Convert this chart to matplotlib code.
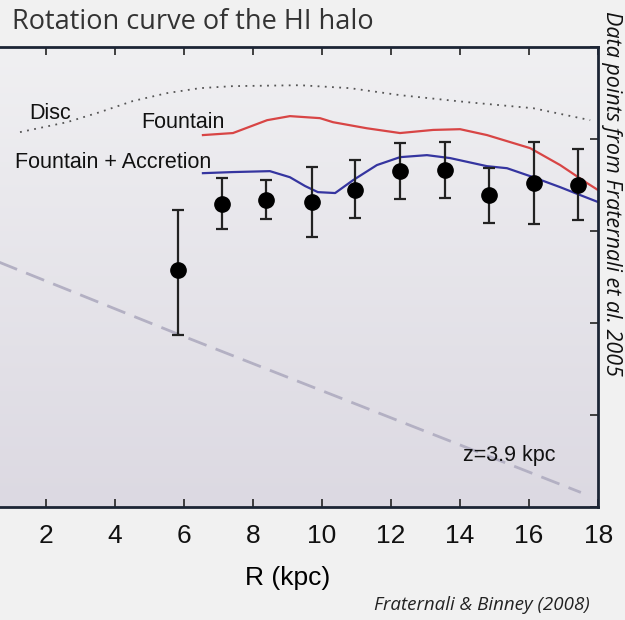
# Rotation curve of the HI halo (Fraternali & Binney 2008 style)
import matplotlib
matplotlib.use("Agg")
import matplotlib.pyplot as plt
import numpy as np

# data points (R in kpc, v in km/s) with asymmetric errors
r_obs = [5.83, 7.10, 8.38, 9.71, 10.96, 12.26, 13.57, 14.84, 16.14, 17.42]
v_obs = [128.8, 164.7, 166.8, 165.8, 172.3, 182.6, 183.2, 169.6, 176.1, 175.0]
v_hi = [161.4, 178.8, 177.7, 184.8, 188.6, 197.8, 198.4, 184.2, 198.4, 194.6]
v_lo = [93.5, 151.1, 156.5, 146.7, 157.0, 167.4, 167.9, 154.3, 153.8, 156.0]

# model curves
r_disc = [1.25, 2.61, 3.57, 4.52, 5.51, 6.46, 7.42, 9.36, 10.81, 12.26, 14.2, 16.12, 17.77]
v_disc = [203.8, 209.2, 214.7, 220.7, 225.0, 227.7, 228.8, 229.3, 227.7, 223.9, 220.1, 216.8, 210.3]

r_fount = [6.55, 7.42, 8.41, 9.07, 9.94, 10.32, 11.30, 12.26, 13.22, 14.0, 14.78, 16.03, 16.9, 17.68, 18.0]
v_fount = [202.2, 203.3, 210.3, 212.5, 211.4, 209.2, 205.9, 203.3, 205.0, 205.4, 202.2, 195.1, 185.9, 176.1, 172.3]

r_acc = [6.55, 7.42, 8.49, 9.07, 9.51, 9.88, 10.38, 10.90, 11.59, 12.26, 13.04, 13.71, 14.78, 15.36, 16.12, 16.90, 17.48, 18.0]
v_acc = [181.5, 182.1, 182.6, 179.3, 174.5, 171.2, 170.7, 177.7, 185.9, 190.2, 191.3, 189.7, 185.3, 184.2, 179.3, 173.9, 169.6, 165.8]

r_z = [0.0, 5.83, 17.5]
v_z = [138.0, 94.0, 8.0]

xticks = [2, 4, 6, 8, 10, 12, 14, 16, 18]

fig = plt.figure(figsize=(6.25, 6.2), dpi=100)
fig.patch.set_facecolor('#f1f1f1')

ax = fig.add_axes([-0.037, 0.182, 0.994, 0.742])
ax.set_xlim(0, 18)
ax.set_ylim(0, 250)

# gradient background
grad = np.linspace(0, 1, 256).reshape(-1, 1)
cmap = matplotlib.colors.LinearSegmentedColormap.from_list('bg', ['#f0f0f2', '#dcd9e2'])
ax.imshow(grad, extent=[0, 1, 0, 1], transform=ax.transAxes, cmap=cmap,
          aspect='auto', zorder=0, origin='upper')

ax.plot(r_disc, v_disc, ls=(0, (1, 3)), color='#555555', lw=1.3, zorder=2)
ax.plot(r_fount, v_fount, color='#d84545', lw=1.6, zorder=2)
ax.plot(r_acc, v_acc, color='#3535a0', lw=1.6, zorder=2)
ax.plot(r_z, v_z, ls=(0, (7, 3.5)), color='#b3b0c3', lw=2.0, zorder=2)

err = [np.array(v_obs) - np.array(v_lo), np.array(v_hi) - np.array(v_obs)]
ax.errorbar(r_obs, v_obs, yerr=err, fmt='o', color='black', ecolor='#222222',
            markersize=11, elinewidth=1.6, capsize=4.5, capthick=1.6, zorder=3)

txt = dict(family='Liberation Sans', color='#111111')
ax.text(2.12, 214, "Disc", fontsize=15.5, ha='center', va='center', **txt)
ax.text(5.97, 209, "Fountain", fontsize=15.5, ha='center', va='center', **txt)
ax.text(3.96, 187.5, "Fountain + Accretion", fontsize=15.5, ha='center', va='center', **txt)
ax.text(15.42, 28.3, "z=3.9 kpc", fontsize=15.5, ha='center', va='center', **txt)

ax.set_xticks(xticks)
ax.set_xticklabels([str(t) for t in xticks], fontsize=19, family='Liberation Sans')
ax.set_yticks([0, 50, 100, 150, 200, 250])
ax.set_yticklabels([])
ax.tick_params(axis='x', direction='in', top=True, length=6, width=1.2,
               pad=12, colors='#222222', labelcolor='#111111')
ax.tick_params(axis='y', direction='in', right=True, length=6, width=1.2, colors='#222222')
ax.set_xlabel("R (kpc)", fontsize=19, family='Liberation Sans', labelpad=13)

for s in ax.spines.values():
    s.set_color('#1c2535')
    s.set_linewidth(2)

fig.text(0.02, 0.965, "Rotation curve of the HI halo", fontsize=19.5, family='Open Sans',
         color='#333333', ha='left', va='center')
fig.text(0.979, 0.688, "Data points from Fraternali et al. 2005", fontsize=15.5, style='italic',
         family='Open Sans', rotation=270, ha='center', va='center', color='#111111')
fig.text(0.944, 0.024, "Fraternali & Binney (2008)", fontsize=13.5, style='italic',
         family='Open Sans', ha='right', va='center', color='#222222')

plt.savefig("out.png", dpi=100, facecolor=fig.get_facecolor())
